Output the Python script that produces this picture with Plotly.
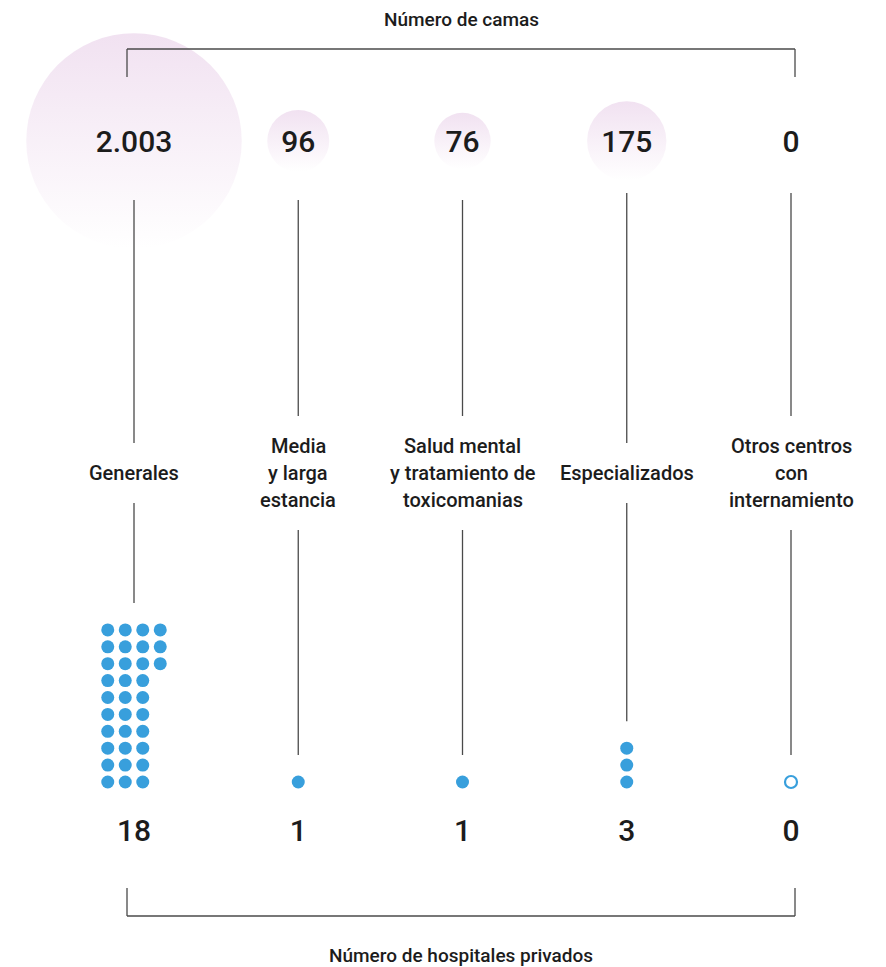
import plotly.graph_objects as go

# data
categorias = [
    "Generales",
    "Media\ny larga\nestancia",
    "Salud mental\ny tratamiento de\ntoxicomanias",
    "Especializados",
    "Otros centros\ncon\ninternamiento",
]
camas = [2003, 96, 76, 175, 0]
hospitales = [18, 1, 1, 3, 0]
puntos = [33, 1, 1, 3, 0]  # dots drawn in the reference

TITULO_ARRIBA = "Número de camas"
TITULO_ABAJO = "Número de hospitales privados"

# layout in page pixels (the page body adds an 8 px margin)
PAGE_W, PAGE_H, BODY = 886, 967, 8
X0, STEP = 134, 164.25
Y_BUBBLE = 141
Y_NUM = 144
Y_LABEL = 473
LINE_GAP = 27
Y_DOT_BOTTOM = 782
DOT_DX, DOT_DY, DOT_ROWS = 17.5, 16.9, 10
Y_COUNT = 833
TOP_START = [200, 200, 200, 193, 193]

FONT = "Roboto"
INK = "#1c1c1c"
GREY = "#4a4a4a"
BLUE = "#389fdc"
LILAC = "#ebd5eb"

col_x = [X0 + i * STEP for i in range(len(categorias))]


def bubble_size(v):
    # diameter in px, compressed scale like the original
    return 0 if v <= 0 else 62 * (v / 96) ** 0.41


fig = go.Figure()

# bed bubbles
fig.add_trace(
    go.Scatter(
        x=col_x,
        y=[Y_BUBBLE] * len(camas),
        mode="markers",
        marker={
            "size": [bubble_size(v) for v in camas],
            "color": LILAC,
            "gradient": {"type": "vertical", "color": "rgba(255,255,255,1)"},
            "line": {"width": 0},
        },
        hoverinfo="skip",
        cliponaxis=False,
    )
)
# bed numbers
fig.add_trace(
    go.Scatter(
        x=col_x,
        y=[Y_NUM] * len(camas),
        customdata=camas,
        mode="text",
        texttemplate="%{customdata:,}",
        textposition="middle center",
        textfont={"family": FONT, "size": 30, "color": INK, "weight": 500},
        hoverinfo="skip",
        cliponaxis=False,
    )
)

# dot grids
dx_all, dy_all, dx_empty = [], [], []
for xc, n in zip(col_x, puntos):
    if n == 0:
        dx_empty.append(xc)
        continue
    rows = min(n, DOT_ROWS)
    ncols = -(-n // rows)
    left = xc - (ncols - 1) * DOT_DX / 2
    top = Y_DOT_BOTTOM - (rows - 1) * DOT_DY
    for i in range(n):
        c, r = divmod(i, rows)
        dx_all.append(left + c * DOT_DX)
        dy_all.append(top + r * DOT_DY)

fig.add_trace(
    go.Scatter(
        x=dx_all, y=dy_all, mode="markers",
        marker={"size": 13, "color": BLUE, "line": {"width": 0}},
        hoverinfo="skip",
    )
)
fig.add_trace(
    go.Scatter(
        x=dx_empty, y=[Y_DOT_BOTTOM] * len(dx_empty), mode="markers",
        marker={"size": 12, "color": "white", "line": {"width": 2.2, "color": BLUE}},
        hoverinfo="skip",
    )
)

# hospital counts
fig.add_trace(
    go.Scatter(
        x=col_x, y=[Y_COUNT] * len(hospitales), text=hospitales,
        mode="text", textposition="middle center",
        textfont={"family": FONT, "size": 30, "color": INK, "weight": 500},
        hoverinfo="skip",
        cliponaxis=False,
    )
)

# labels and connector lines
shapes = []
for i, (xc, lab) in enumerate(zip(col_x, categorias)):
    lines = lab.split("\n")
    first = Y_LABEL - (len(lines) - 1) / 2 * LINE_GAP
    last = first + (len(lines) - 1) * LINE_GAP
    for k, txt in enumerate(lines):
        fig.add_annotation(
            x=xc, y=first + k * LINE_GAP, text=txt, showarrow=False,
            font={"family": FONT, "size": 20, "color": INK, "weight": 500},
        )
    n = puntos[i]
    rows = min(n, DOT_ROWS) if n else 1
    top_dot = Y_DOT_BOTTOM - (rows - 1) * DOT_DY
    segs = [(TOP_START[i], first - 30), (last + 30, top_dot - 27)]
    for y0, y1 in segs:
        shapes.append(dict(type="line", x0=xc, x1=xc, y0=y0, y1=y1,
                           line={"color": GREY, "width": 1.3}))

# brackets
br_l, br_r = 127, 795
shapes += [
    dict(type="line", x0=br_l, x1=br_r, y0=49, y1=49, line={"color": GREY, "width": 1.3}),
    dict(type="line", x0=br_l, x1=br_l, y0=49, y1=77, line={"color": GREY, "width": 1.3}),
    dict(type="line", x0=br_r, x1=br_r, y0=49, y1=77, line={"color": GREY, "width": 1.3}),
    dict(type="line", x0=br_l, x1=br_r, y0=916, y1=916, line={"color": GREY, "width": 1.3}),
    dict(type="line", x0=br_l, x1=br_l, y0=888, y1=916, line={"color": GREY, "width": 1.3}),
    dict(type="line", x0=br_r, x1=br_r, y0=888, y1=916, line={"color": GREY, "width": 1.3}),
]

for txt, y in [(TITULO_ARRIBA, 19), (TITULO_ABAJO, 955)]:
    fig.add_annotation(
        x=(br_l + br_r) / 2, y=y, text=txt, showarrow=False,
        font={"family": FONT, "size": 19, "color": INK, "weight": 500},
    )

W, H = PAGE_W - 2 * BODY, PAGE_H - BODY
fig.update_layout(
    width=W,
    height=H,
    margin={"l": 0, "r": 0, "t": 0, "b": 0},
    paper_bgcolor="white",
    plot_bgcolor="white",
    showlegend=False,
    separators=",.",
    shapes=shapes,
    xaxis={"range": [BODY, BODY + W], "visible": False, "fixedrange": True},
    yaxis={"range": [BODY + H, BODY], "visible": False, "fixedrange": True},
)

fig.write_html("out.html")
